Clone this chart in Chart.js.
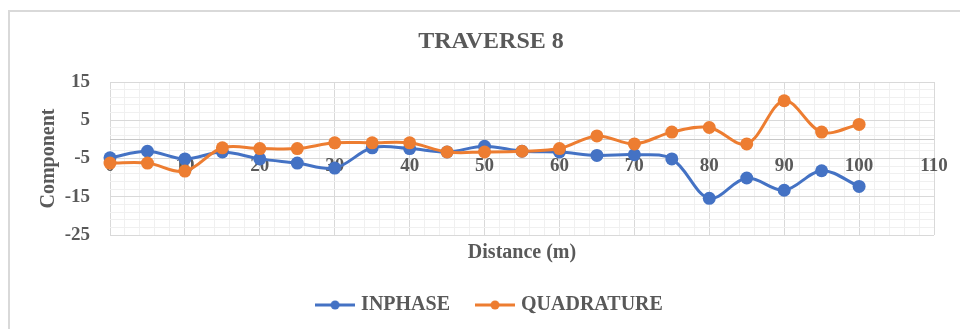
<!DOCTYPE html>
<html>
<head>
<meta charset="utf-8">
<script src="https://cdn.jsdelivr.net/npm/chart.js@4.4.1/dist/chart.umd.min.js"></script>
<style>
  body { margin: 0; background: #fff; }
  #wrap { position: relative; width: 960px; height: 329px; overflow: hidden; }
  #frame { position: absolute; left: 8px; top: 10px; width: 1000px; height: 400px;
           border-left: 2px solid #d9d9d9; border-top: 2px solid #d9d9d9; }
  #chart { position: absolute; left: 0; top: 0; }
</style>
</head>
<body>
<div id="wrap">
  <div id="frame"></div>
  <canvas id="chart" width="960" height="329"></canvas>
</div>
<script>
// data
const distance = [0, 5, 10, 15, 20, 25, 30, 35, 40, 45, 50, 55, 60, 65, 70, 75, 80, 85, 90, 95, 100];
const inphase = [-4.8, -3.1, -5.1, -3.3, -5.1, -6.2, -7.5, -2.2, -2.4, -3.3, -1.8, -3.1, -3.3, -4.2, -4.0, -5.1, -15.4, -10.1, -13.3, -8.2, -12.3];
const quadrature = [-6.2, -6.2, -8.3, -2.2, -2.4, -2.4, -0.9, -0.9, -0.9, -3.3, -3.3, -3.1, -2.4, 0.9, -1.2, 1.9, 3.1, -1.2, 10.1, 1.9, 3.9];
const yTickLabels = [15, 5, -5, -15, -25];
const xTickLabels = [0, 10, 20, 30, 40, 50, 60, 70, 80, 90, 100, 110];

const BLUE = '#4472C4';
const ORANGE = '#ED7D31';
const TEXT = '#595959';
const FONT = "'Liberation Serif', 'Times New Roman', serif";

function toPoints(ys) {
    return distance.map((x, i) => ({ x: x, y: ys[i] }));
}

// small line + dot icon for the legend
function legendIcon(color) {
    const c = document.createElement('canvas');
    c.width = 40; c.height = 12;
    const g = c.getContext('2d');
    g.strokeStyle = color; g.lineWidth = 3;
    g.beginPath(); g.moveTo(0, 6); g.lineTo(40, 6); g.stroke();
    g.fillStyle = color;
    g.beginPath(); g.arc(20, 6, 4.5, 0, Math.PI * 2); g.fill();
    return c;
}

const yMajor = v => yTickLabels.includes(v);
const xMajor = v => v % 10 === 0;

new Chart(document.getElementById('chart').getContext('2d'), {
    type: 'line',
    data: {
        datasets: [{
            label: 'INPHASE',
            data: toPoints(inphase),
            borderColor: BLUE,
            backgroundColor: BLUE,
            borderWidth: 3,
            pointRadius: 6.5,
            pointBorderWidth: 0,
            tension: 0.35,
            clip: false,
            order: 1
        }, {
            label: 'QUADRATURE',
            data: toPoints(quadrature),
            borderColor: ORANGE,
            backgroundColor: ORANGE,
            borderWidth: 3,
            pointRadius: 6.5,
            pointBorderWidth: 0,
            tension: 0.35,
            clip: false,
            order: 0
        }]
    },
    options: {
        responsive: false,
        animation: false,
        layout: { padding: { left: 48, right: 26, top: 0, bottom: 4 } },
        plugins: {
            tooltip: { enabled: false },
            title: {
                display: true,
                text: 'TRAVERSE 8',
                color: TEXT,
                font: { family: FONT, size: 24, weight: 'bold' },
                padding: { top: 27.6, bottom: 25.6 }
            },
            legend: {
                position: 'bottom',
                labels: {
                    usePointStyle: true,
                    pointStyleWidth: 32,
                    padding: 29,
                    color: TEXT,
                    font: { family: FONT, size: 20, weight: 'bold' },
                    generateLabels: () => [
                        { text: 'INPHASE', pointStyle: legendIcon(BLUE), fontColor: TEXT, lineWidth: 0, datasetIndex: 0 },
                        { text: 'QUADRATURE', pointStyle: legendIcon(ORANGE), fontColor: TEXT, lineWidth: 0, datasetIndex: 1 }
                    ]
                }
            }
        },
        scales: {
            x: {
                type: 'linear',
                min: 0,
                max: 110,
                ticks: { stepSize: 2, display: false },
                grid: {
                    drawTicks: false,
                    color: ctx => xMajor(ctx.tick.value) ? '#d9d9d9' : '#f0f0f0'
                },
                border: { display: false },
                title: {
                    display: true,
                    text: 'Distance (m)',
                    color: TEXT,
                    font: { family: FONT, size: 20, weight: 'bold' },
                    padding: { top: 0, bottom: 1 }
                },
                afterFit: s => { s.height = 31; s.paddingLeft = 0; s.paddingRight = 0; }
            },
            x2: {
                type: 'linear',
                axis: 'x',
                position: { y: 0 },
                min: 0,
                max: 110,
                z: 1,
                afterBuildTicks: s => { s.ticks = xTickLabels.map(v => ({ value: v })); },
                afterFit: s => { s.paddingLeft = 0; s.paddingRight = 0; },
                ticks: {
                    autoSkip: false,
                    maxRotation: 0,
                    padding: 15,
                    color: TEXT,
                    font: { family: FONT, size: 19, weight: 'bold' }
                },
                grid: { display: false, drawTicks: false },
                border: { display: false }
            },
            y: {
                type: 'linear',
                min: -25,
                max: 15,
                afterBuildTicks: s => {
                    const t = [];
                    for (let v = -25; v <= 15; v += 2) t.push({ value: v });
                    s.ticks = t;
                },
                ticks: {
                    autoSkip: false,
                    padding: 20,
                    color: TEXT,
                    font: { family: FONT, size: 19, weight: 'bold' },
                    callback: v => yMajor(v) ? String(v) : ''
                },
                grid: {
                    drawTicks: false,
                    color: ctx => yMajor(ctx.tick.value) ? '#d9d9d9' : '#f0f0f0'
                },
                border: { display: false },
                title: {
                    display: true,
                    text: 'Component',
                    color: TEXT,
                    font: { family: FONT, size: 20, weight: 'bold' },
                    padding: { top: -11, bottom: 0 }
                },
                afterFit: s => { s.width = 62; }
            }
        }
    },
    plugins: [{
        // horizontal axis line at y = 0
        id: 'zeroLine',
        beforeDatasetsDraw(chart) {
            const { ctx, chartArea, scales } = chart;
            const y = Math.round(scales.y.getPixelForValue(0)) + 0.5;
            ctx.save();
            ctx.strokeStyle = '#c8c8c8';
            ctx.lineWidth = 1;
            ctx.beginPath();
            ctx.moveTo(chartArea.left, y);
            ctx.lineTo(chartArea.right, y);
            ctx.stroke();
            ctx.restore();
        }
    }]
});
</script>
</body>
</html>
